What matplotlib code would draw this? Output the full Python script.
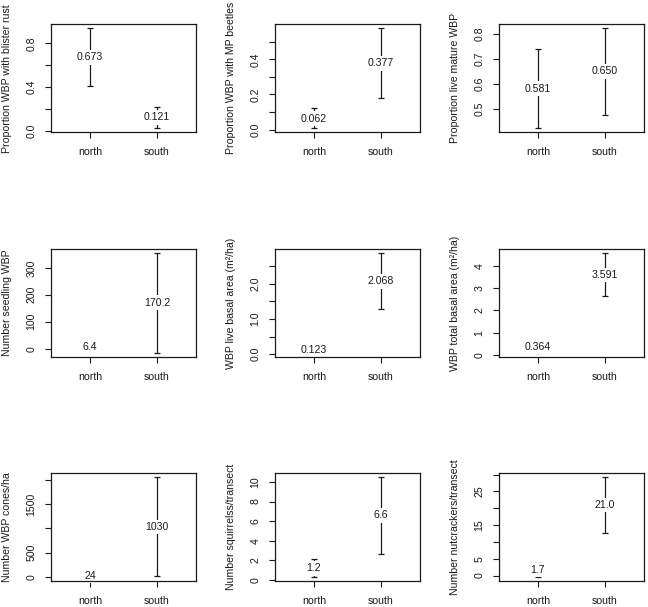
import numpy as np
import matplotlib
matplotlib.use('Agg')
import matplotlib.pyplot as plt

plt.rcParams['font.family'] = ['Liberation Sans', 'DejaVu Sans']

# data (means with lower/upper CI)
groups = ['north', 'south']
y_labels = ['Proportion WBP with blister rust', 'Proportion WBP with MP beetles',
            'Proportion live mature WBP', 'Number seedling WBP',
            'WBP live basal area (m\u00b2/ha)', 'WBP total basal area (m\u00b2/ha)',
            'Number WBP cones/ha', 'Number squirrelss/transect',
            'Number nutcrackers/transect']
north_mean = [0.673, 0.062, 0.581, 6.4, 0.123, 0.364, 24, 1.2, 1.7]
north_lo = [0.405, 0.0075, 0.4225, 0.5, 0.03, 0.09, -7, 0.28, -0.5]
north_hi = [0.938, 0.122, 0.740, 12.3, 0.22, 0.64, 55, 2.15, 3.8]
south_mean = [0.121, 0.377, 0.650, 170.2, 2.068, 3.591, 1030, 6.6, 21.0]
south_lo = [0.021, 0.178, 0.476, -16, 1.27, 2.63, 20, 2.7, 12.8]
south_hi = [0.213, 0.576, 0.822, 355, 2.88, 4.58, 2048, 10.47, 29.2]
value_fmt = ['{:.3f}', '{:.3f}', '{:.3f}', '{:.1f}', '{:.3f}', '{:.3f}',
             '{:.0f}', '{:.1f}', '{:.1f}']
y_ticks = [[0, 0.2, 0.4, 0.6, 0.8],
           [0, 0.1, 0.2, 0.3, 0.4, 0.5],
           [0.5, 0.6, 0.7, 0.8],
           [0, 100, 200, 300],
           [0, 0.5, 1.0, 1.5, 2.0, 2.5],
           [0, 1, 2, 3, 4],
           [0, 500, 1000, 1500, 2000],
           [0, 2, 4, 6, 8, 10],
           [0, 5, 10, 15, 20, 25, 30]]
y_ticklabels = [['0.0', '', '0.4', '', '0.8'],
                ['0.0', '', '0.2', '', '0.4', ''],
                ['0.5', '0.6', '0.7', '0.8'],
                ['0', '100', '200', '300'],
                ['0.0', '', '1.0', '', '2.0', ''],
                ['0', '1', '2', '3', '4'],
                ['0', '500', '', '1500', ''],
                ['0', '2', '4', '6', '8', '10'],
                ['0', '5', '', '15', '', '25', '']]

W, H = 648, 607
fig = plt.figure(figsize=(W / 100, H / 100), dpi=100)

col_left = [51, 275, 499]
row_top = [24.3, 249, 473.3]
box_w, box_h = 145, 108
fs = 7.6
ink = '#1a1a1a'

x = np.array([1, 2])
for i in range(9):
    r, c = divmod(i, 3)
    ax = fig.add_axes([col_left[c] / W, 1 - (row_top[r] + box_h) / H,
                       box_w / W, box_h / H])
    mean = np.array([north_mean[i], south_mean[i]])
    lo = np.array([north_lo[i], south_lo[i]])
    hi = np.array([north_hi[i], south_hi[i]])

    ax.errorbar(x, mean, yerr=[mean - lo, hi - mean], fmt='none',
                ecolor=ink, elinewidth=0.9, capsize=1.9, capthick=0.9,
                zorder=2)
    for xi, m in zip(x, mean):
        ax.text(xi, m, value_fmt[i].format(m), ha='center', va='center',
                fontsize=fs, color=ink, zorder=2.2,
                bbox=dict(facecolor='white', edgecolor='none',
                          boxstyle='square,pad=0.22'))

    # R style 4% padding
    ymin, ymax = lo.min(), hi.max()
    pad = 0.04 * (ymax - ymin)
    ax.set_ylim(ymin - pad, ymax + pad)
    ax.set_xlim(0.42, 2.58)

    ax.set_xticks(x)
    ax.set_xticklabels(groups)
    ax.set_yticks(y_ticks[i])
    ax.set_yticklabels(y_ticklabels[i], rotation=90, va='center')
    ax.tick_params(direction='out', length=4.3, width=0.8, pad=6.2,
                   labelsize=fs, colors=ink)
    for sp in ax.spines.values():
        sp.set_linewidth(0.9)
        sp.set_color(ink)
    ax.set_ylabel(y_labels[i], fontsize=fs, color=ink)
    ax.yaxis.set_label_coords(-38.5 / box_w, 0.5)

fig.savefig('out.png', dpi=100)
